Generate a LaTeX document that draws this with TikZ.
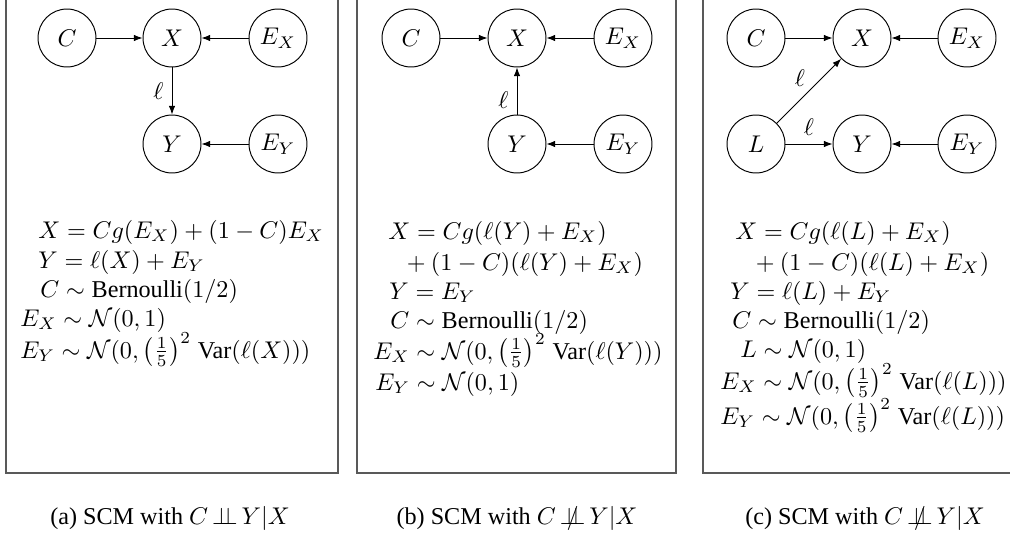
\documentclass[tikz,border=0pt]{standalone}
\usepackage[no-math]{fontspec}
\setmainfont{Liberation Serif}
\usetikzlibrary{arrows.meta}
\newcommand{\myindep}{\mkern3mu\mathord{\perp\mkern-9mu\perp}\mkern3mu}
\newcommand{\mynindep}{\mkern3mu\mathord{\ooalign{$\perp\mkern-9mu\perp$\cr\hidewidth$/$\hidewidth\cr}}\mkern3mu}
\begin{document}
\begin{tikzpicture}[x=0.414pt,y=-0.414pt,
  var/.style={circle, draw, minimum size=24pt, inner sep=0pt},
  arr/.style={-{Latex[length=3.6pt,width=2.7pt]}},
  eq/.style={anchor=base west, inner sep=0pt},
  captext/.style={anchor=base, inner sep=0pt},
  frame/.style={draw=black!65, line width=0.5pt}]
\clip (0,0) rectangle (1010,542);
\fill[white] (0,0) rectangle (1010,542);
% frames
\draw[frame] (6,-5) rectangle (338,473);
\draw[frame] (357,-5) rectangle (676,473);
\draw[frame] (703,-5) rectangle (1020,473);

% ---- box (a)
\node[var] (c1) at (67,38) {$C$};
\node[var] (x1) at (172,38) {$X$};
\node[var] (ex1) at (278,38) {$E_X$};
\node[var] (y1) at (172,144) {$Y$};
\node[var] (ey1) at (278,144) {$E_Y$};
\draw[arr] (c1) -- (x1);
\draw[arr] (ex1) -- (x1);
\draw[arr] (x1) -- node[left] {$\ell$} (y1);
\draw[arr] (ey1) -- (y1);
\node[eq] (a1) at (38,238) {$X = Cg(E_X) + (1-C)E_X$};
\node[eq] (a2) at (38,268) {$Y = \ell(X) + E_Y$};
\node[eq] (a3) at (40,297) {$C \sim \mbox{Bernoulli}(1/2)$};
\node[eq] (a4) at (20,326) {$E_X \sim \mathcal{N}(0,1)$};
\node[eq] (a5) at (20,358) {$E_Y \sim \mathcal{N}(0, \left(\frac{1}{5}\right)^2 \mkern2mu\mbox{Var}(\ell(X)))$};

% ---- box (b)
\node[var] (c2) at (411,38) {$C$};
\node[var] (x2) at (517,38) {$X$};
\node[var] (ex2) at (623,38) {$E_X$};
\node[var] (y2) at (517,144) {$Y$};
\node[var] (ey2) at (623,144) {$E_Y$};
\draw[arr] (c2) -- (x2);
\draw[arr] (ex2) -- (x2);
\draw[arr] (y2) -- node[left, pos=0.3] {$\ell$} (x2);
\draw[arr] (ey2) -- (y2);
\node[eq] (b1) at (388,239) {$X = Cg(\ell(Y) + E_X)$};
\node[eq] (b2) at (401,270) {${}+(1-C)(\ell(Y) + E_X)$};
\node[eq] (b3) at (389,299) {$Y = E_Y$};
\node[eq] (b4) at (390,328) {$C \sim \mbox{Bernoulli}(1/2)$};
\node[eq] (b5) at (373,359) {$E_X \sim \mathcal{N}(0, \left(\frac{1}{5}\right)^2 \mkern2mu\mbox{Var}(\ell(Y)))$};
\node[eq] (b6) at (375,390) {$E_Y \sim \mathcal{N}(0,1)$};

% ---- box (c)
\node[var] (c3) at (756,38) {$C$};
\node[var] (x3) at (862,38) {$X$};
\node[var] (ex3) at (967,38) {$E_X$};
\node[var] (l3) at (756,144) {$L$};
\node[var] (y3) at (862,144) {$Y$};
\node[var] (ey3) at (967,144) {$E_Y$};
\draw[arr] (c3) -- (x3);
\draw[arr] (ex3) -- (x3);
\draw[arr] (l3) -- node[above left, inner sep=1.5pt] {$\ell$} (x3);
\draw[arr] (l3) -- node[above] {$\ell$} (y3);
\draw[arr] (ey3) -- (y3);
\node[eq] (k1) at (735,239) {$X = Cg(\ell(L) + E_X)$};
\node[eq] (k2) at (750,270) {${}+(1-C)(\ell(L) + E_X)$};
\node[eq] (k3) at (730,299) {$Y = \ell(L) + E_Y$};
\node[eq] (k4) at (732,328) {$C \sim \mbox{Bernoulli}(1/2)$};
\node[eq] (k5) at (740,357) {$L \sim \mathcal{N}(0,1)$};
\node[eq] (k6) at (720,389) {$E_X \sim \mathcal{N}(0, \left(\frac{1}{5}\right)^2 \mkern2mu\mbox{Var}(\ell(L)))$};
\node[eq] (k7) at (720,424) {$E_Y \sim \mathcal{N}(0, \left(\frac{1}{5}\right)^2 \mkern2mu\mbox{Var}(\ell(L)))$};

% ---- captions
\node[captext] (capa) at (170,524) {(a) SCM with $C \myindep Y|X$};
\node[captext] (capb) at (517,524) {(b) SCM with $C \mynindep Y|X$};
\node[captext] (capc) at (865,524) {(c) SCM with $C \mynindep Y|X$};
\end{tikzpicture}
\end{document}
